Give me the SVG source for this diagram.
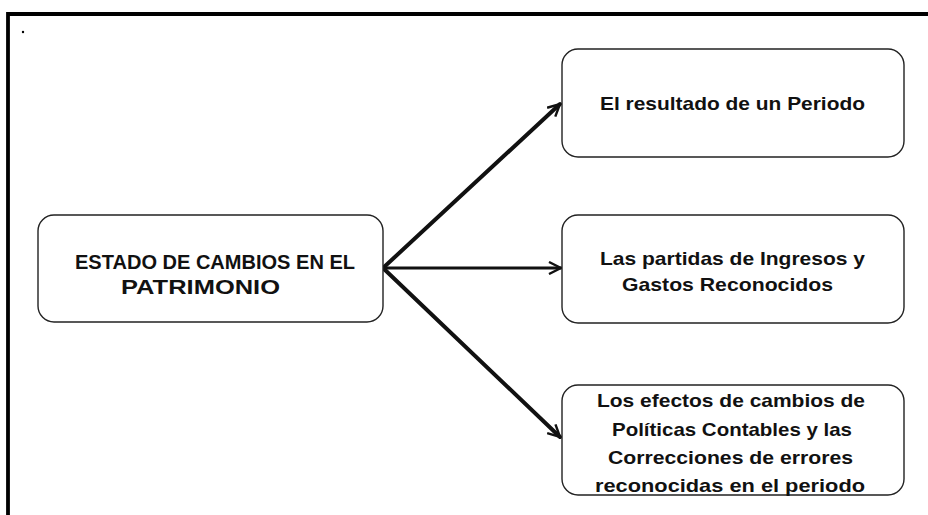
<svg xmlns="http://www.w3.org/2000/svg" width="928" height="515" viewBox="0 0 928 515">
<style>
.box{fill:#fff;stroke:#222;stroke-width:1.4}
.t{font-family:"Liberation Sans",Arial,sans-serif;font-weight:bold;font-size:19px;fill:#111}
.tl{font-size:20px}
.c{stroke:#111;fill:none;stroke-linecap:round}
</style>
<defs>
<marker id="ah2" viewBox="0 0 14 14" refX="13" refY="7" markerWidth="14" markerHeight="14" markerUnits="userSpaceOnUse" orient="auto">
<path d="M1,1 L13,7 L1,13" fill="none" stroke="#111" stroke-width="2.4"/>
</marker>
</defs>
<rect width="928" height="515" fill="#fff"/>
<g id="frame">
<path d="M8,515 L8,14 L928,14" fill="none" stroke="#000" stroke-width="3.8"/>
<circle cx="23" cy="32" r="1.2" fill="#000"/>
</g>
<g id="connectors">
<line class="c" x1="383" y1="268" x2="560" y2="104" stroke-width="4" marker-end="url(#ah2)"/>
<line class="c" x1="383" y1="268" x2="561" y2="268" stroke-width="2.8" marker-end="url(#ah2)"/>
<line class="c" x1="383" y1="268" x2="560" y2="437" stroke-width="4" marker-end="url(#ah2)"/>
</g>
<g id="n-estado">
<rect class="box" x="38" y="215" width="345" height="107" rx="16"/>
<text class="t tl" x="75" y="269" textLength="280" lengthAdjust="spacingAndGlyphs">ESTADO DE CAMBIOS EN EL</text>
<text class="t tl" x="121" y="294" textLength="159" lengthAdjust="spacingAndGlyphs">PATRIMONIO</text>
</g>
<g id="n-resultado">
<rect class="box" x="562" y="49" width="342" height="108" rx="16"/>
<text class="t" x="600" y="110" textLength="265" lengthAdjust="spacingAndGlyphs">El resultado de un Periodo</text>
</g>
<g id="n-partidas">
<rect class="box" x="562" y="215" width="342" height="108" rx="16"/>
<text class="t" x="600" y="265" textLength="265" lengthAdjust="spacingAndGlyphs">Las partidas de Ingresos y</text>
<text class="t" x="622" y="291" textLength="211" lengthAdjust="spacingAndGlyphs">Gastos Reconocidos</text>
</g>
<g id="n-efectos">
<rect class="box" x="562" y="385" width="342" height="110" rx="16"/>
<text class="t" x="597" y="407" textLength="268" lengthAdjust="spacingAndGlyphs">Los efectos de cambios de</text>
<text class="t" x="612" y="436" textLength="240" lengthAdjust="spacingAndGlyphs">Políticas Contables y las</text>
<text class="t" x="608" y="464" textLength="245" lengthAdjust="spacingAndGlyphs">Correcciones de errores</text>
<text class="t" x="595" y="492" textLength="270" lengthAdjust="spacingAndGlyphs">reconocidas en el periodo</text>
</g>
</svg>
